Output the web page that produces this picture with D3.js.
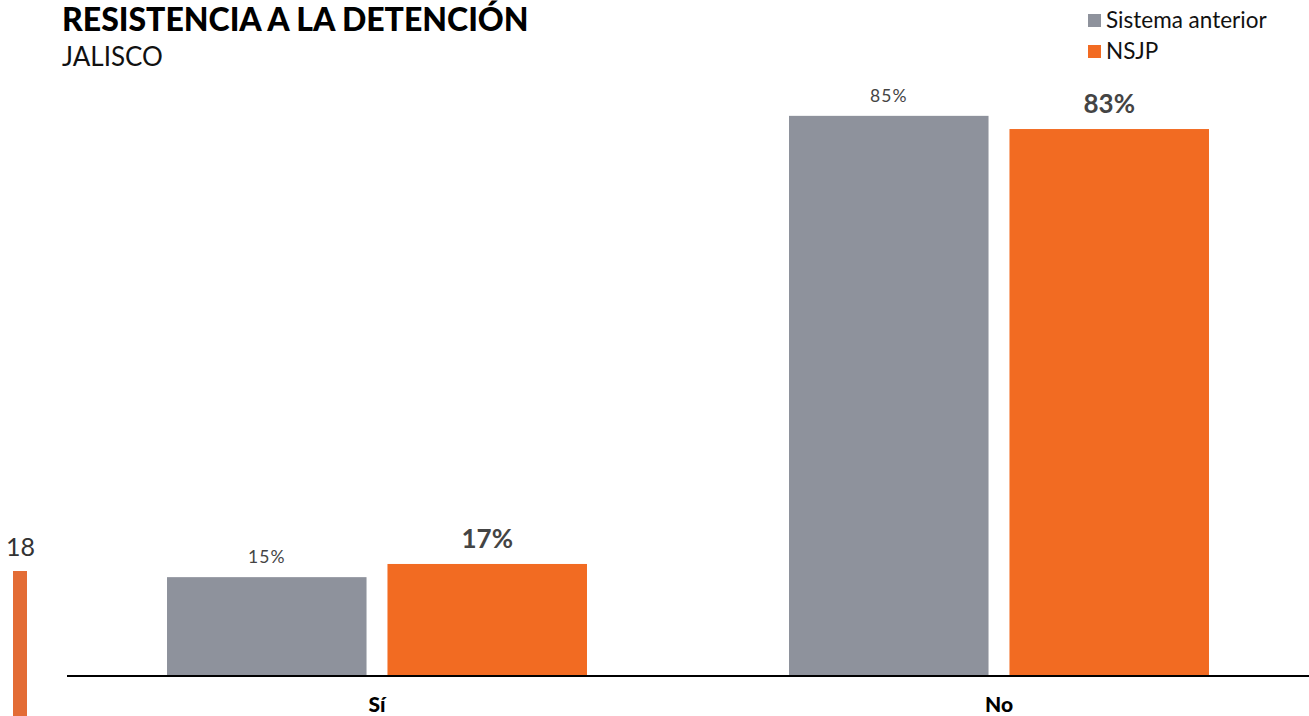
<!DOCTYPE html>
<html>
<head>
<meta charset="utf-8"/>
<script src="https://cdnjs.cloudflare.com/ajax/libs/d3/7.8.5/d3.min.js"></script>
<style>
  body { margin: 0; background: #fff; }
  text { font-family: Lato, "Open Sans", sans-serif; }
</style>
</head>
<body>
<script>
const svgW = 1309, svgH = 716;

// data
const categories = ['Sí', 'No'];
const series = ['Sistema anterior', 'NSJP'];
const sistemaAnterior = [15, 85];
const nsjp = [17, 83];
const colors = ['#8e929c', '#f26b22'];

const svg = d3.select('body').append('svg')
  .attr('width', svgW)
  .attr('height', svgH);

const baseY = 676;
const y = d3.scaleLinear().domain([0, 100]).range([baseY, 17]);
const x0 = d3.scaleBand().domain(categories).range([67, 1309])
  .paddingInner(0.3248).paddingOuter(0.1608);
const x1 = d3.scaleBand().domain(series).range([0, x0.bandwidth()]).paddingInner(0.095);

const rows = categories.map((c, i) => ({ cat: c, vals: [sistemaAnterior[i], nsjp[i]] }));

// title
svg.append('text').attr('x', 62).attr('y', 31)
  .style('font-size', '32px').style('font-weight', 900).attr('fill', '#000')
  .text('RESISTENCIA A LA DETENCIÓN');
svg.append('text').attr('x', 62).attr('y', 66)
  .style('font-size', '26px').attr('fill', '#111')
  .text('JALISCO');

// legend
const leg = svg.append('g');
series.forEach((s, i) => {
  leg.append('rect').attr('x', 1088).attr('y', 14 + i * 31).attr('width', 13).attr('height', 13)
    .attr('fill', colors[i]);
  leg.append('text').attr('x', 1106).attr('y', 28 + i * 31)
    .style('font-size', '22.5px').attr('fill', '#111').text(s);
});

// bars
const groups = svg.selectAll('g.grp').data(rows).enter().append('g')
  .attr('class', 'grp')
  .attr('transform', d => `translate(${x0(d.cat)},0)`);

groups.selectAll('rect').data(d => d.vals.map((v, i) => ({ v, s: series[i], i })))
  .enter().append('rect')
  .attr('x', d => x1(d.s))
  .attr('y', d => y(d.v))
  .attr('width', x1.bandwidth())
  .attr('height', d => baseY - y(d.v))
  .attr('fill', d => colors[d.i]);

groups.selectAll('text.val').data(d => d.vals.map((v, i) => ({ v, s: series[i], i })))
  .enter().append('text')
  .attr('class', 'val')
  .attr('x', d => x1(d.s) + x1.bandwidth() / 2)
  .attr('y', d => y(d.v) - (d.i === 0 ? 14 : 16))
  .attr('text-anchor', 'middle')
  .attr('fill', '#444')
  .style('font-size', d => d.i === 0 ? '17.5px' : '26px')
  .style('font-weight', d => d.i === 0 ? 400 : 700)
  .style('letter-spacing', d => d.i === 0 ? '1px' : '0px')
  .text(d => d.v + '%');

// axis
svg.append('line').attr('x1', 67).attr('x2', 1309).attr('y1', baseY).attr('y2', baseY)
  .attr('stroke', '#000').attr('stroke-width', 2);

svg.selectAll('text.cat').data(categories).enter().append('text')
  .attr('class', 'cat')
  .attr('x', d => x0(d) + x0.bandwidth() / 2)
  .attr('y', 712)
  .attr('text-anchor', 'middle')
  .style('font-size', '21px').style('font-weight', 900).attr('fill', '#000')
  .text(d => d);

// page marker at bottom left
svg.append('text').attr('x', 6).attr('y', 556)
  .style('font-size', '25px').attr('fill', '#333').text('18');
svg.append('rect').attr('x', 13).attr('y', 571).attr('width', 14).attr('height', 145)
  .attr('fill', '#e36c35');
</script>
</body>
</html>
